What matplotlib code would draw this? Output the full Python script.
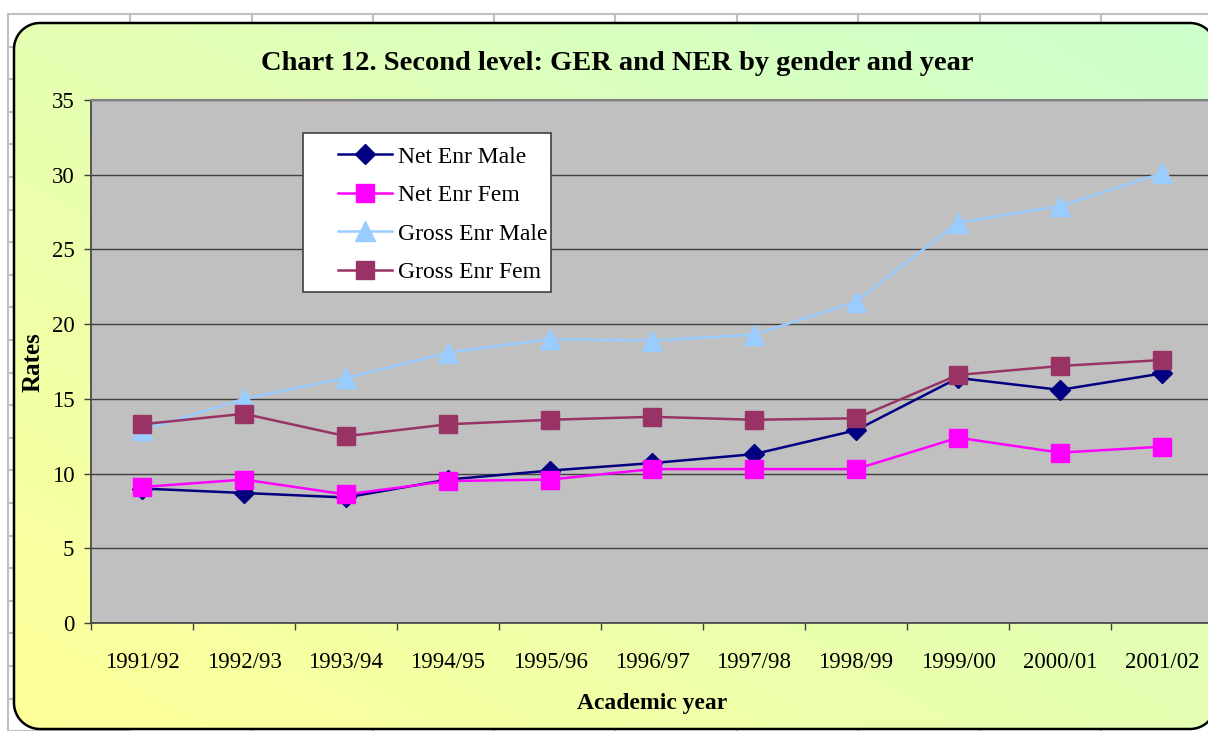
import numpy as np
import matplotlib
matplotlib.use("Agg")
import matplotlib.pyplot as plt
from matplotlib.patches import PathPatch, Rectangle
from matplotlib.path import Path

years = ["1991/92", "1992/93", "1993/94", "1994/95", "1995/96", "1996/97",
         "1997/98", "1998/99", "1999/00", "2000/01", "2001/02"]
net_male = [9.0, 8.7, 8.4, 9.6, 10.2, 10.7, 11.3, 12.9, 16.4, 15.6, 16.7]
net_fem = [9.1, 9.6, 8.6, 9.5, 9.6, 10.3, 10.3, 10.3, 12.4, 11.4, 11.8]
gross_male = [12.9, 15.0, 16.4, 18.1, 19.0, 18.9, 19.3, 21.5, 26.8, 27.9, 30.1]
gross_fem = [13.3, 14.0, 12.5, 13.3, 13.6, 13.8, 13.6, 13.7, 16.6, 17.2, 17.6]
yticks = [0, 5, 10, 15, 20, 25, 30, 35]

W, H = 1208, 731
plt.rcParams['font.family'] = ['Liberation Serif', 'DejaVu Serif']
fig = plt.figure(figsize=(W / 100, H / 100), dpi=100)


def fy(y):
    return H - y


def rounded_rect(x0, y0, x1, y1, r, n=20):
    pts = []
    corners = [((x1 - r, y1 - r), 0), ((x0 + r, y1 - r), 90),
               ((x0 + r, y0 + r), 180), ((x1 - r, y0 + r), 270)]
    for (cx, cy), a0 in corners:
        ang = np.radians(np.linspace(a0, a0 + 90, n))
        pts.extend(zip(cx + r * np.cos(ang), cy + r * np.sin(ang)))
    pts.append(pts[0])
    return Path(pts, closed=True)


# background (spreadsheet grid + rounded gradient box), pixel coords, y up
bg = fig.add_axes([0, 0, 1, 1])
bg.set_xlim(0, W)
bg.set_ylim(0, H)
bg.axis('off')
gc = '#C0C0C0'
for x in [8, 130, 252, 373, 494, 615, 737, 858, 980, 1101]:
    bg.plot([x, x], [fy(14), 0], color=gc, lw=1.5, zorder=1)
bg.plot([8, W], [fy(14), fy(14)], color=gc, lw=1.5, zorder=1)
for k in range(1, 23):
    yy = fy(14 + 32.6 * k)
    bg.plot([8, 130], [yy, yy], color=gc, lw=1.5, zorder=1)

bx0, bx1, by0, by1 = 14, 1216, fy(729), fy(23)
box = PathPatch(rounded_rect(bx0, by0, bx1, by1, 26), facecolor='none',
                edgecolor='black', lw=1.8, zorder=4)
bg.add_patch(box)
ny, nx = 100, 200
xn = np.linspace(0, 1, nx)[None, :]
yn = np.linspace(1, 0, ny)[:, None]
t = np.clip(0.5 * (xn + yn), 0, 1)
yellow = np.array([1.0, 1.0, 0.6])
green = np.array([0.8, 1.0, 0.8])
img = yellow[None, None, :] * (1 - t[..., None]) + green[None, None, :] * t[..., None]
im = bg.imshow(img, extent=[bx0, bx1, by0, by1], aspect='auto', zorder=3,
               interpolation='bilinear', origin='upper')
im.set_clip_path(box)
bg.set_xlim(0, W)
bg.set_ylim(0, H)

# main plot
x0, x1 = 91, 1213
ytop, ybot = 100, 623
ax = fig.add_axes([x0 / W, (H - ybot) / H, (x1 - x0) / W, (ybot - ytop) / H])
ax.set_facecolor('#C0C0C0')
xs = np.arange(len(years))

ax.plot(xs, net_male, color='#000080', lw=1.8, marker='D', ms=10.5,
        mec='#000080', label='Net Enr Male', zorder=3)
ax.plot(xs, net_fem, color='#FF00FF', lw=1.8, marker='s', ms=13,
        mec='#FF00FF', label='Net Enr Fem', zorder=4)
ax.plot(xs, gross_male, color='#99CCFF', lw=1.8, marker='^', ms=14,
        mec='#99CCFF', label='Gross Enr Male', zorder=5)
ax.plot(xs, gross_fem, color='#993366', lw=1.8, marker='s', ms=13,
        mec='#993366', label='Gross Enr Fem', zorder=6)

ax.set_xlim(-0.5, len(years) - 0.5)
ax.set_ylim(0, 35)
ax.set_yticks(yticks)
ax.set_yticklabels([str(v) for v in yticks], fontsize=16.5)
ax.yaxis.grid(True, color='#404040', lw=1.0)
ax.set_axisbelow(True)
ax.set_xticks(np.arange(len(years) + 1) - 0.5)
ax.set_xticklabels([])
ax.set_xticks(xs, minor=True)
ax.set_xticklabels(years, minor=True, fontsize=16.5)
ax.tick_params(axis='x', which='major', length=5, width=1, color='#404040', direction='out')
ax.tick_params(axis='x', which='minor', length=0, pad=21)
ax.tick_params(axis='y', length=5, width=1, color='#404040', pad=7)
for s in ['left', 'bottom']:
    ax.spines[s].set_color('#404040')
    ax.spines[s].set_linewidth(1.2)
ax.spines['top'].set_color('#808080')
ax.spines['top'].set_linewidth(1.5)
ax.spines['right'].set_visible(False)

# legend: manual frame + frameless legend
ax.add_patch(Rectangle((303 / W, fy(292) / H), (551 - 303) / W, (292 - 133) / H,
                       transform=fig.transFigure, facecolor='white',
                       edgecolor='#404040', lw=1.2, zorder=10))
leg = ax.legend(loc='upper left', bbox_to_anchor=(338 / W, fy(146) / H),
                bbox_transform=fig.transFigure, fontsize=17, frameon=False,
                handlelength=2.3, labelspacing=0.72, borderpad=0,
                handletextpad=0.25, borderaxespad=0)
leg.set_zorder(11)

fig.text(617 / W, fy(70) / H, "Chart 12. Second level: GER and NER by gender and year",
         ha='center', va='baseline', fontsize=20.5, fontweight='bold')
fig.text(33 / W, fy(362) / H, "Rates", ha='center', va='center', rotation=90,
         fontsize=18, fontweight='bold')
fig.text(652 / W, fy(704) / H, "Academic year", ha='center', va='center',
         fontsize=17, fontweight='bold')

fig.savefig('out.png', dpi=100)
